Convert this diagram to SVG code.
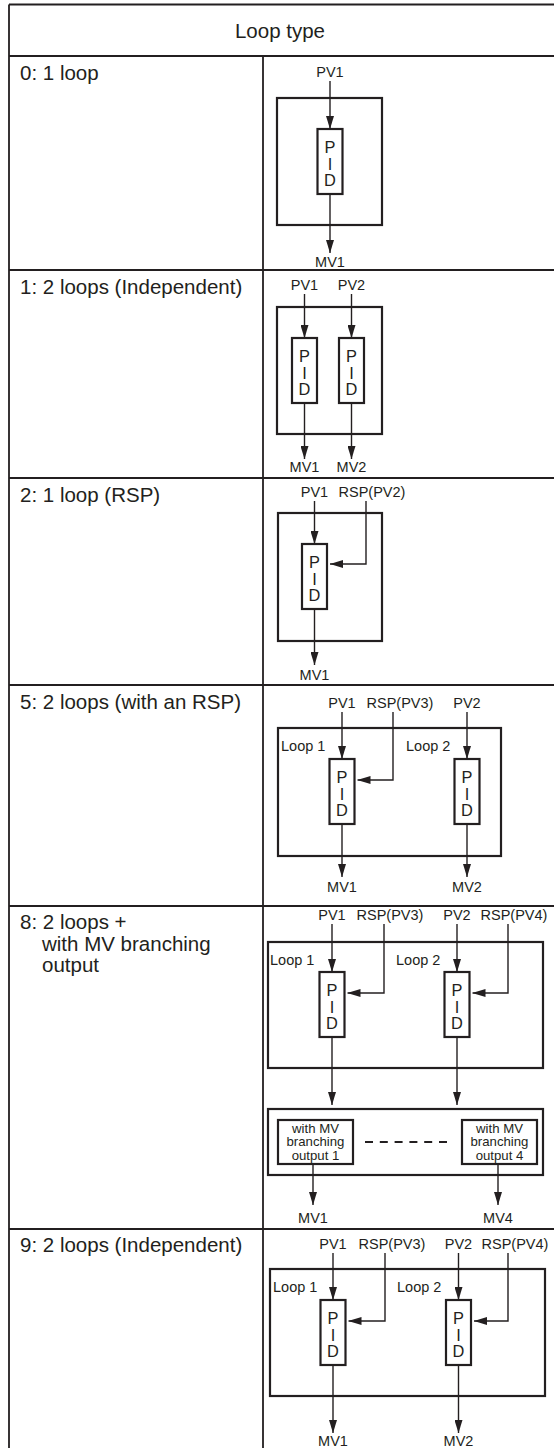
<svg xmlns="http://www.w3.org/2000/svg" width="554" height="1448" viewBox="0 0 554 1448">
<style>
.t{font-family:"Liberation Sans",Arial,Helvetica,sans-serif;fill:#231f20}
.lbl{font-size:20.5px}
.hd{font-size:20.5px;text-anchor:middle}
.sm{font-size:14.5px;text-anchor:middle}
.xs{font-size:13.2px;text-anchor:middle}
.ls{font-size:14.5px}
.pid{font-size:16.4px;text-anchor:middle}
.grid{stroke:#231f20;stroke-width:1.8;fill:none}
.box{fill:#fff;stroke:#231f20;stroke-width:2.2}
.obox{fill:none;stroke:#231f20;stroke-width:2.2}
.con{stroke:#231f20;stroke-width:1.4;fill:none}
.arr{marker-end:url(#ah)}
.dash{stroke:#231f20;stroke-width:2;stroke-dasharray:8 6.8;fill:none}
</style>
<defs>
<marker id="ah" viewBox="0 0 13 8" refX="13" refY="4" markerWidth="13" markerHeight="8" markerUnits="userSpaceOnUse" orient="auto">
<path d="M0,0 L13,4 L0,8 Z" fill="#231f20"/>
</marker>
</defs>
<rect width="554" height="1448" fill="#fff"/>

<g id="table" class="grid">
<path d="M9,4.5 H554 M9,4.5 V1448 M9,56 H554 M263,56 V1448 M9,270 H554 M9,478 H554 M9,685 H554 M9,906 H554 M9,1229 H554"/>
</g>
<g id="header"><text class="t hd" x="280" y="38">Loop type</text></g>

<g id="label-0"><text class="t lbl" x="20" y="80">0: 1 loop</text></g>
<g id="label-1"><text class="t lbl" x="20" y="294">1: 2 loops (Independent)</text></g>
<g id="label-2"><text class="t lbl" x="20" y="502">2: 1 loop (RSP)</text></g>
<g id="label-5"><text class="t lbl" x="20" y="709">5: 2 loops (with an RSP)</text></g>
<g id="label-8"><text class="t lbl" x="20" y="929">8: 2 loops +<tspan x="42" dy="21.5">with MV branching</tspan><tspan x="42" dy="21.5">output</tspan></text></g>
<g id="label-9"><text class="t lbl" x="20" y="1252">9: 2 loops (Independent)</text></g>

<!-- Row 1 -->
<g id="r1-frame"><rect class="obox" x="277" y="98" width="105" height="127"/></g>
<g id="r1-pid"><rect class="box" x="317.5" y="129" width="25" height="65"/><text class="t pid" x="330" y="153">P<tspan x="330" dy="16.6">I</tspan><tspan x="330" dy="16.6">D</tspan></text></g>
<g id="r1-io"><text class="t sm" x="330" y="77">PV1</text><text class="t sm" x="330" y="267">MV1</text></g>

<!-- Row 2 -->
<g id="r2-frame"><rect class="obox" x="277" y="307" width="105" height="127"/></g>
<g id="r2-pid1"><rect class="box" x="292" y="338" width="25" height="65"/><text class="t pid" x="304.5" y="362">P<tspan x="304.5" dy="16.6">I</tspan><tspan x="304.5" dy="16.6">D</tspan></text></g>
<g id="r2-pid2"><rect class="box" x="339" y="338" width="25" height="65"/><text class="t pid" x="351.5" y="362">P<tspan x="351.5" dy="16.6">I</tspan><tspan x="351.5" dy="16.6">D</tspan></text></g>
<g id="r2-io"><text class="t sm" x="304.5" y="290">PV1</text><text class="t sm" x="351.5" y="290">PV2</text><text class="t sm" x="304.5" y="472">MV1</text><text class="t sm" x="351.5" y="472">MV2</text></g>

<!-- Row 3 -->
<g id="r3-frame"><rect class="obox" x="278" y="513" width="104" height="128"/></g>
<g id="r3-pid"><rect class="box" x="302" y="544" width="25" height="65"/><text class="t pid" x="314.5" y="568">P<tspan x="314.5" dy="16.6">I</tspan><tspan x="314.5" dy="16.6">D</tspan></text></g>
<g id="r3-io"><text class="t sm" x="314.5" y="497">PV1</text><text class="t sm" x="372" y="497">RSP(PV2)</text><text class="t sm" x="314.5" y="680">MV1</text></g>

<!-- Row 4 -->
<g id="r4-frame"><rect class="obox" x="278" y="728" width="223" height="128"/><text class="t ls" x="281" y="751">Loop 1</text><text class="t ls" x="406" y="751">Loop 2</text></g>
<g id="r4-pid1"><rect class="box" x="329.5" y="759" width="25" height="65"/><text class="t pid" x="342" y="783">P<tspan x="342" dy="16.6">I</tspan><tspan x="342" dy="16.6">D</tspan></text></g>
<g id="r4-pid2"><rect class="box" x="454.5" y="759" width="25" height="65"/><text class="t pid" x="467" y="783">P<tspan x="467" dy="16.6">I</tspan><tspan x="467" dy="16.6">D</tspan></text></g>
<g id="r4-io"><text class="t sm" x="342" y="708">PV1</text><text class="t sm" x="400" y="708">RSP(PV3)</text><text class="t sm" x="467" y="708">PV2</text><text class="t sm" x="342" y="892">MV1</text><text class="t sm" x="467" y="892">MV2</text></g>

<!-- Row 5 -->
<g id="r5-frame"><rect class="obox" x="268" y="942" width="275" height="126"/><text class="t ls" x="270" y="965">Loop 1</text><text class="t ls" x="396" y="965">Loop 2</text></g>
<g id="r5-pid1"><rect class="box" x="319.5" y="972" width="25" height="65"/><text class="t pid" x="332" y="996">P<tspan x="332" dy="16.6">I</tspan><tspan x="332" dy="16.6">D</tspan></text></g>
<g id="r5-pid2"><rect class="box" x="444.5" y="972" width="25" height="65"/><text class="t pid" x="457" y="996">P<tspan x="457" dy="16.6">I</tspan><tspan x="457" dy="16.6">D</tspan></text></g>
<g id="r5-branch"><rect class="obox" x="268" y="1109" width="275" height="66"/></g>
<g id="r5-out1"><rect class="box" x="278" y="1120" width="75" height="44"/><text class="t xs" x="315.5" y="1133">with MV<tspan x="315.5" dy="13.3">branching</tspan><tspan x="315.5" dy="13.3">output 1</tspan></text></g>
<g id="r5-out4"><rect class="box" x="462" y="1120" width="75" height="44"/><text class="t xs" x="499.5" y="1133">with MV<tspan x="499.5" dy="13.3">branching</tspan><tspan x="499.5" dy="13.3">output 4</tspan></text></g>
<g id="r5-io"><text class="t sm" x="332" y="920">PV1</text><text class="t sm" x="390" y="920">RSP(PV3)</text><text class="t sm" x="457" y="920">PV2</text><text class="t sm" x="514" y="920">RSP(PV4)</text><text class="t sm" x="313" y="1223">MV1</text><text class="t sm" x="498" y="1223">MV4</text></g>

<!-- Row 6 -->
<g id="r6-frame"><rect class="obox" x="270" y="1269" width="275" height="127"/><text class="t ls" x="273" y="1292">Loop 1</text><text class="t ls" x="397" y="1292">Loop 2</text></g>
<g id="r6-pid1"><rect class="box" x="320.5" y="1300" width="25" height="65"/><text class="t pid" x="333" y="1324">P<tspan x="333" dy="16.6">I</tspan><tspan x="333" dy="16.6">D</tspan></text></g>
<g id="r6-pid2"><rect class="box" x="446" y="1300" width="25" height="65"/><text class="t pid" x="458.5" y="1324">P<tspan x="458.5" dy="16.6">I</tspan><tspan x="458.5" dy="16.6">D</tspan></text></g>
<g id="r6-io"><text class="t sm" x="333" y="1249">PV1</text><text class="t sm" x="392" y="1249">RSP(PV3)</text><text class="t sm" x="458.5" y="1249">PV2</text><text class="t sm" x="515" y="1249">RSP(PV4)</text><text class="t sm" x="333" y="1446">MV1</text><text class="t sm" x="458.5" y="1446">MV2</text></g>

<g id="connectors" class="con">
<path class="arr" d="M330,81 V129"/>
<path class="arr" d="M330,194 V253"/>
<path class="arr" d="M304.5,294 V338"/>
<path class="arr" d="M351.5,294 V338"/>
<path class="arr" d="M304.5,403 V459"/>
<path class="arr" d="M351.5,403 V459"/>
<path class="arr" d="M314.5,501 V544"/>
<path class="arr" d="M366,501 V564 H330"/>
<path class="arr" d="M314.5,609 V665"/>
<path class="arr" d="M342,712 V759"/>
<path class="arr" d="M467,712 V759"/>
<path class="arr" d="M393,712 V780 H357.5"/>
<path class="arr" d="M342,824 V877"/>
<path class="arr" d="M467,824 V877"/>
<path class="arr" d="M332,924 V972"/>
<path class="arr" d="M457,924 V972"/>
<path class="arr" d="M384,924 V993 H347.5"/>
<path class="arr" d="M508,924 V993 H472.5"/>
<path class="arr" d="M332,1037 V1105"/>
<path class="arr" d="M457,1037 V1105"/>
<path class="dash" d="M365,1142 H447"/>
<path class="arr" d="M313,1164 V1205"/>
<path class="arr" d="M498,1164 V1205"/>
<path class="arr" d="M333,1253 V1300"/>
<path class="arr" d="M458.5,1253 V1300"/>
<path class="arr" d="M385,1253 V1321 H348.5"/>
<path class="arr" d="M508,1253 V1321 H474"/>
<path class="arr" d="M333,1365 V1433"/>
<path class="arr" d="M458.5,1365 V1433"/>
</g>
</svg>
